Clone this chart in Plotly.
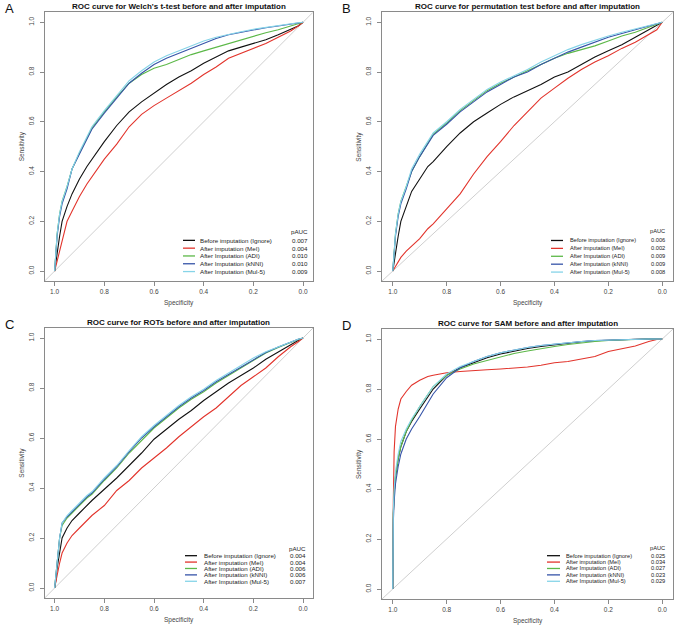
import plotly.graph_objects as go

W, H = 675, 627
FONT = "Liberation Sans"

METHODS = ["Before imputation (Ignore)", "After imputation (MeI)", "After Imputation (ADI)",
           "After Imputation (kNNI)", "After Imputation (Mul-5)"]
COLORS = ["#111111", "#e2342c", "#5cb848", "#3654a8", "#86d4e8"]

TITLES = ["ROC curve for Welch's t-test before and after imputation",
          "ROC curve for permutation test before and after imputation",
          "ROC curve for ROTs before and after imputation",
          "ROC curve for SAM before and after imputation"]
LETTERS = ["A", "B", "C", "D"]

PAUC_A = ["0.007", "0.004", "0.010", "0.010", "0.009"]
PAUC_B = ["0.006", "0.002", "0.009", "0.009", "0.008"]
PAUC_C = ["0.004", "0.004", "0.006", "0.006", "0.007"]
PAUC_D = ["0.025", "0.034", "0.027", "0.023", "0.029"]

TICKS = [0.0, 0.2, 0.4, 0.6, 0.8, 1.0]

SPEC = [1.0, .995, .99, .98, .97, .95, .93, .9, .87, .85, .8, .75, .7, .65, .6, .55, .5,
        .45, .4, .35, .3, .25, .2, .15, .1, .05, .02, 0.0]

# Panel A  (Welch's t-test)
A_IGNORE = [0, .04, .08, .14, .20, .26, .31, .37, .42, .45, .52, .585, .64, .68, .715, .75, .78,
            .805, .835, .86, .885, .90, .915, .93, .95, .97, .985, 1]
A_MEI = [0, .02, .05, .09, .13, .20, .24, .30, .35, .38, .45, .51, .58, .63, .665, .695, .725,
         .755, .79, .82, .855, .875, .895, .915, .94, .965, .985, 1]
A_ADI = [0, .09, .15, .23, .28, .34, .41, .475, .535, .575, .64, .70, .755, .79, .815, .83, .85,
         .87, .885, .90, .915, .93, .945, .958, .97, .985, .993, 1]
A_KNNI = [0, .08, .14, .22, .27, .33, .41, .47, .53, .57, .635, .695, .755, .795, .83, .855, .875,
          .895, .915, .935, .95, .96, .97, .978, .985, .993, .997, 1]
A_MUL5 = [0, .09, .15, .23, .28, .34, .41, .48, .54, .58, .645, .705, .765, .805, .84, .865, .885,
          .905, .925, .94, .952, .962, .972, .98, .987, .994, .998, 1]

# Panel B  (permutation test)
B_IGNORE = [0, .04, .08, .14, .20, .26, .32, .37, .42, .44, .50, .555, .60, .635, .67, .70, .725,
            .75, .78, .80, .83, .86, .885, .91, .94, .97, .99, 1]
B_MEI = [0, .01, .02, .04, .055, .08, .10, .13, .17, .19, .25, .31, .39, .46, .52, .585, .64,
         .695, .735, .775, .81, .84, .865, .895, .92, .95, .97, 1]
B_ADI = [0, .09, .15, .23, .28, .34, .40, .46, .515, .55, .595, .645, .685, .725, .755, .78, .805,
         .83, .855, .875, .89, .905, .925, .945, .96, .98, .99, 1]
B_KNNI = [0, .08, .14, .22, .27, .33, .40, .46, .51, .545, .59, .64, .68, .72, .75, .78, .80,
          .83, .855, .88, .90, .92, .94, .955, .97, .985, .993, 1]
B_MUL5 = [0, .09, .15, .23, .28, .34, .41, .47, .52, .555, .60, .65, .69, .73, .76, .785, .81,
          .84, .865, .89, .91, .928, .945, .96, .973, .987, .994, 1]

# Panel C  (ROTs)
C_IGNORE = [0, .03, .08, .15, .20, .24, .27, .30, .33, .35, .395, .44, .49, .54, .595, .635, .675,
            .71, .75, .785, .82, .85, .88, .915, .945, .975, .99, 1]
C_MEI = [0, .02, .05, .10, .14, .18, .21, .24, .27, .29, .33, .39, .43, .48, .52, .56, .605,
         .645, .685, .72, .765, .81, .845, .88, .925, .965, .985, 1]
C_ADI = [0, .05, .12, .2, .25, .28, .30, .33, .36, .375, .43, .48, .54, .59, .64, .68, .72,
         .755, .785, .82, .85, .88, .91, .94, .962, .983, .994, 1]
C_KNNI = [0, .05, .12, .2, .26, .285, .305, .335, .365, .38, .435, .485, .545, .60, .645, .685, .725,
          .76, .79, .825, .855, .885, .915, .942, .964, .984, .995, 1]
C_MUL5 = [0, .05, .12, .2, .26, .29, .31, .34, .37, .385, .44, .49, .55, .605, .65, .69, .73,
          .765, .795, .83, .86, .89, .92, .945, .965, .985, .995, 1]

SPEC_D = [1.0, 1.0, .998, .995, .99, .98, .97, .95, .93, .9, .87, .85, .8, .75, .7, .65, .6, .55,
          .5, .45, .4, .35, .3, .25, .2, .15, .1, .05, .02, 0.0]
# Panel D  (SAM)
D_IGNORE = [0, .2, .30, .38, .45, .52, .57, .63, .67, .72, .77, .80, .855, .885, .905, .925, .94,
            .952, .962, .97, .977, .984, .989, .993, .996, .998, .999, 1, 1, 1]
D_MEI = [0, .05, .35, .55, .65, .72, .76, .79, .815, .835, .85, .855, .865, .87, .875, .877, .88,
         .883, .888, .895, .905, .91, .92, .93, .95, .962, .972, .99, .998, 1]
D_ADI = [0, .2, .30, .38, .45, .52, .57, .63, .675, .73, .78, .81, .855, .88, .90, .915, .93,
         .942, .952, .962, .97, .978, .985, .99, .994, .997, .999, 1, 1, 1]
D_KNNI = [0, .15, .27, .35, .42, .49, .54, .60, .64, .69, .745, .78, .845, .885, .91, .93, .945,
          .957, .966, .974, .98, .986, .99, .994, .996, .998, .999, 1, 1, 1]
D_MUL5 = [0, .17, .32, .40, .47, .54, .59, .64, .68, .73, .78, .81, .86, .89, .91, .93, .945,
          .957, .966, .974, .98, .986, .99, .994, .996, .998, .999, 1, 1, 1]

PANELS = [
    dict(spec=SPEC, sens=[A_IGNORE, A_MEI, A_ADI, A_KNNI, A_MUL5], pauc=PAUC_A,
         box=(44.7, 12.3, 313, 281), leg=dict(line=(183, 195), text=198, val=310, top=231, dy=7.8, fs=6.2)),
    dict(spec=SPEC, sens=[B_IGNORE, B_MEI, B_ADI, B_KNNI, B_MUL5], pauc=PAUC_B,
         box=(382, 12.3, 673, 281), leg=dict(line=(551, 563), text=568, val=667, top=231, dy=7.9, fs=5.7)),
    dict(spec=SPEC, sens=[C_IGNORE, C_MEI, C_ADI, C_KNNI, C_MUL5], pauc=PAUC_C,
         box=(44.7, 328, 313, 598), leg=dict(line=(185, 197), text=202, val=308, top=548, dy=6.4, fs=6.2)),
    dict(spec=SPEC_D, sens=[D_IGNORE, D_MEI, D_ADI, D_KNNI, D_MUL5], pauc=PAUC_D,
         box=(382, 329, 673, 599), leg=dict(line=(547, 560), text=564, val=667, top=548, dy=6.4, fs=5.7)),
]

X_RANGE = [1.04, -0.04]
Y_RANGE = [-0.04, 1.04]


def px(x):
    return x / W


def py(y):
    return 1 - y / H


fig = go.Figure()
annotations = []
shapes = []
FRAME = "#8a8a8a"
TXT = "#444444"

for i, p in enumerate(PANELS):
    n = "" if i == 0 else str(i + 1)
    l, t, r, b = p["box"]
    xa, ya = "x" + n, "y" + n
    shapes.append(dict(type="line", xref=xa, yref=ya, x0=X_RANGE[0], y0=Y_RANGE[0],
                       x1=X_RANGE[1], y1=Y_RANGE[1], line=dict(color="#cfcfcf", width=1), layer="below"))
    for k, sens in enumerate(p["sens"]):
        fig.add_trace(go.Scatter(x=p["spec"], y=sens, mode="lines", xaxis=xa, yaxis=ya,
                                 line=dict(color=COLORS[k], width=1.1), showlegend=False,
                                 name=METHODS[k], hoverinfo="skip"))
    axcommon = dict(showgrid=False, zeroline=False, showline=True, mirror=True,
                    linecolor=FRAME, linewidth=1, ticks="outside", ticklen=4, tickcolor=FRAME,
                    tickvals=TICKS, tickformat=".1f", tickfont=dict(family=FONT, size=6.5, color=TXT))
    fig.layout["xaxis" + n] = dict(axcommon, range=X_RANGE, domain=[px(l), px(r)], anchor=ya)
    fig.layout["yaxis" + n] = dict(axcommon, range=Y_RANGE, domain=[py(b), py(t)], anchor=xa,
                                   tickangle=-90, ticklabelstandoff=3)
    cx = (l + r) / 2
    annotations.append(dict(text="<b>" + TITLES[i] + "</b>", x=px(cx), y=py(t - 5.5), xref="paper",
                            yref="paper", showarrow=False, xanchor="center", yanchor="middle",
                            font=dict(family=FONT, size=8, color="#111111")))
    annotations.append(dict(text=LETTERS[i], x=px(l - 42), y=py(t - 3.5), xref="paper", yref="paper",
                            showarrow=False, xanchor="left", yanchor="middle",
                            font=dict(family=FONT, size=13, color="#111111")))
    dcx = l + (r - l) * (0.04 + 0.5) / 1.08
    annotations.append(dict(text="Specificity", x=px(dcx), y=py(b + 22), xref="paper", yref="paper",
                            showarrow=False, xanchor="center", yanchor="middle",
                            font=dict(family=FONT, size=6.5, color=TXT)))
    dcy = (t + b) / 2
    annotations.append(dict(text="Sensitivity", x=px(l - 23), y=py(dcy), xref="paper", yref="paper",
                            showarrow=False, xanchor="center", yanchor="middle", textangle=-90,
                            font=dict(family=FONT, size=6.5, color=TXT)))
    lg = p["leg"]
    annotations.append(dict(text="pAUC", x=px(lg["val"]), y=py(lg["top"]), xref="paper", yref="paper",
                            showarrow=False, xanchor="right", yanchor="middle",
                            font=dict(family=FONT, size=lg["fs"], color="#222222")))
    for k in range(5):
        yy = lg["top"] + lg["dy"] * (k + 1.2)
        shapes.append(dict(type="line", xref="paper", yref="paper", x0=px(lg["line"][0]), x1=px(lg["line"][1]),
                           y0=py(yy), y1=py(yy), line=dict(color=COLORS[k], width=1.3)))
        annotations.append(dict(text=METHODS[k], x=px(lg["text"]), y=py(yy), xref="paper", yref="paper",
                                showarrow=False, xanchor="left", yanchor="middle",
                                font=dict(family=FONT, size=lg["fs"], color="#222222")))
        annotations.append(dict(text=p["pauc"][k], x=px(lg["val"]), y=py(yy), xref="paper", yref="paper",
                                showarrow=False, xanchor="right", yanchor="middle",
                                font=dict(family=FONT, size=lg["fs"], color="#222222")))

fig.update_layout(width=W, height=H, margin=dict(l=0, r=0, t=0, b=0), paper_bgcolor="white",
                  plot_bgcolor="white", annotations=annotations, shapes=shapes, showlegend=False)
fig.write_html("out.html", config={"displayModeBar": False},
               post_script="document.body.style.margin='0';document.body.style.overflow='hidden';")
